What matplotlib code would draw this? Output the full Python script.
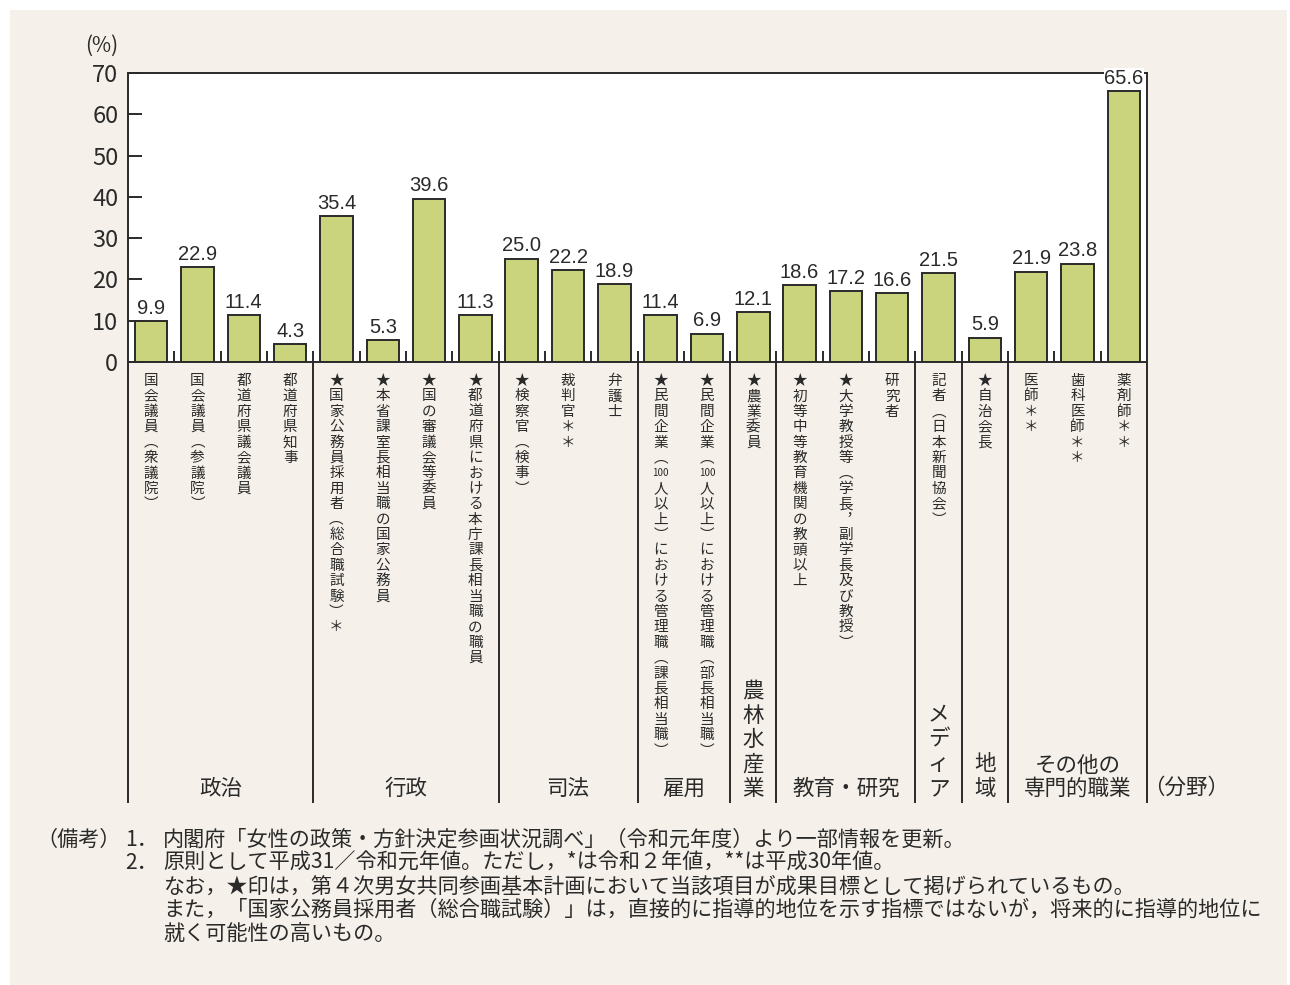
import matplotlib
matplotlib.use("Agg")
import matplotlib.pyplot as plt
from matplotlib.patches import Rectangle
from matplotlib.transforms import blended_transform_factory

plt.rcParams["font.family"] = ["Noto Sans CJK JP", "DejaVu Sans"]

# データ
groups = ["政治", "行政", "司法", "雇用", "農林水産業", "教育・研究", "メディア", "地域", "その他の\n専門的職業"]
group_sizes = [4, 4, 3, 2, 1, 3, 1, 1, 3]
labels = [
    "国会議員（衆議院）", "国会議員（参議院）", "都道府県議会議員", "都道府県知事",
    "★国家公務員採用者（総合職試験）＊", "★本省課室長相当職の国家公務員",
    "★国の審議会等委員", "★都道府県における本庁課長相当職の職員",
    "★検察官（検事）", "裁判官＊＊", "弁護士",
    "★民間企業（100人以上）における管理職（課長相当職）",
    "★民間企業（100人以上）における管理職（部長相当職）",
    "★農業委員",
    "★初等中等教育機関の教頭以上", "★大学教授等（学長，副学長及び教授）", "研究者",
    "記者（日本新聞協会）",
    "★自治会長",
    "医師＊＊", "歯科医師＊＊", "薬剤師＊＊",
]
values = [9.9, 22.9, 11.4, 4.3, 35.4, 5.3, 39.6, 11.3, 25.0, 22.2, 18.9,
          11.4, 6.9, 12.1, 18.6, 17.2, 16.6, 21.5, 5.9, 21.9, 23.8, 65.6]
yticks = [0, 10, 20, 30, 40, 50, 60, 70]
notes = [
    "内閣府「女性の政策・方針決定参画状況調べ」（令和元年度）より一部情報を更新。",
    "原則として平成31／令和元年値。ただし，*は令和２年値，**は平成30年値。",
    "なお，★印は，第４次男女共同参画基本計画において当該項目が成果目標として掲げられているもの。",
    "また，「国家公務員採用者（総合職試験）」は，直接的に指導的地位を示す指標ではないが，将来的に指導的地位に",
    "就く可能性の高いもの。",
]

W, H = 1290, 985
cream = "#f5f1ea"
bar_color = "#c9d47c"
ink = "#2a2a2a"

fig = plt.figure(figsize=(W / 100, H / 100), dpi=100, facecolor="white")
fig.patches.append(Rectangle((10 / W, 0), (1287 - 10) / W, (H - 10) / H,
                             transform=fig.transFigure, facecolor=cream,
                             edgecolor="none", zorder=-10))

ax_l, ax_r, ax_t, ax_b = 128, 1147, 73, 362
ax = fig.add_axes([ax_l / W, 1 - ax_b / H, (ax_r - ax_l) / W, (ax_b - ax_t) / H])
ax.set_facecolor("white")

n = len(values)
x = list(range(n))
ax.bar(x, values, width=0.7, color=bar_color, edgecolor=ink, linewidth=1.4, zorder=2)
ax.set_xlim(-0.5, n - 0.5)
ax.set_ylim(0, 70)

for sp in ax.spines.values():
    sp.set_linewidth(1.4)
    sp.set_color(ink)

ax.set_yticks(yticks)
ax.tick_params(axis="y", direction="in", length=10, width=1.4, color=ink,
               labelsize=17, pad=7, labelcolor=ink)
bounds = [i + 0.5 for i in range(n - 1)]
ax.set_xticks(bounds)
ax.set_xticklabels([])
ax.tick_params(axis="x", direction="in", length=8, width=1.4, color=ink)

# 数値ラベル
for i, v in enumerate(values):
    ax.text(i, v + 0.8, f"{v:.1f}", ha="center", va="bottom", fontsize=14.5,
            family=["Liberation Sans", "DejaVu Sans"], color=ink,
            zorder=5, bbox=dict(facecolor="white", edgecolor="none", pad=0.5))

fig.text(102 / W, 1 - 46 / H, "(%)", ha="center", va="center", fontsize=15, color=ink)

tr = blended_transform_factory(ax.transData, fig.transFigure)


def fy(ypx):
    return 1 - ypx / H


# 縦書き用の文字置換
vmap = {"（": "︵", "）": "︶", "，": "︐", "「": "﹁", "」": "﹂"}


def tokens(s):
    out = []
    buf = ""
    for ch in s:
        if ch.isdigit() and ch.isascii():
            buf += ch
            continue
        if buf:
            out.append(buf)
            buf = ""
        out.append(vmap.get(ch, ch))
    if buf:
        out.append(buf)
    return out


# 項目ラベル（縦書き）
pitch = 15.4
for i, lab in enumerate(labels):
    for k, tk in enumerate(tokens(lab)):
        fs = 7 if tk.isdigit() else 10.5
        ax.text(i, fy(381 + k * pitch), tk, transform=tr, ha="center", va="center",
                fontsize=fs, color=ink)

# 分野の区切り線
edges = [-0.5]
for s in group_sizes:
    edges.append(edges[-1] + s)
ax.vlines(edges, fy(803), fy(ax_b), transform=tr, colors=ink, linewidth=1.4, clip_on=False)

# 分野ラベル
for g, (a, b) in zip(groups, zip(edges[:-1], edges[1:])):
    cx = (a + b) / 2
    if g in ("農林水産業", "メディア", "地域"):
        chars = list(g)
        for k, ch in enumerate(reversed(chars)):
            ax.text(cx, fy(789 - k * 24.5), ch, transform=tr, ha="center", va="center",
                    fontsize=15.5, color=ink)
    else:
        ax.text(cx, fy(800), g, transform=tr, ha="center", va="bottom", fontsize=15.5,
                color=ink, linespacing=1.05, multialignment="center")
fig.text(1186 / W, fy(788), "（分野）", ha="center", va="center", fontsize=15.5, color=ink)

# 備考
note_y = [840, 863, 887, 910, 934]
fs_note = 15.2
fig.text(36 / W, fy(note_y[0]), "（備考）", ha="left", va="center", fontsize=fs_note, color=ink)
fig.text(125 / W, fy(note_y[0]), "1．", ha="left", va="center", fontsize=fs_note, color=ink)
fig.text(125 / W, fy(note_y[1]), "2．", ha="left", va="center", fontsize=fs_note, color=ink)
for yy, t in zip(note_y, notes):
    fig.text(163 / W, fy(yy), t, ha="left", va="center", fontsize=fs_note, color=ink)

fig.savefig("out.png", dpi=100, facecolor=fig.get_facecolor())
